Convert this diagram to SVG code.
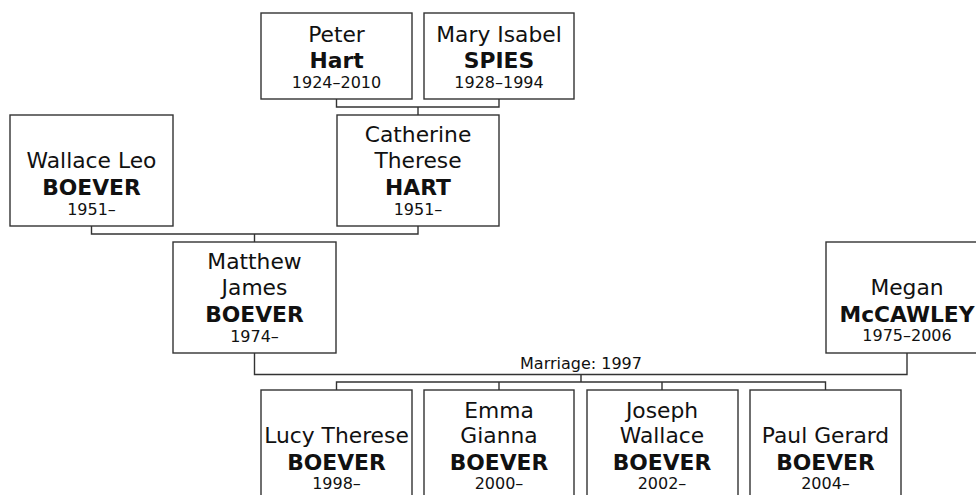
<svg xmlns="http://www.w3.org/2000/svg" width="976" height="495" viewBox="0 0 976 495">
<style>
.box{fill:#ffffff;stroke:#333333;stroke-width:1.4}
.ln{fill:none;stroke:#333333;stroke-width:1.4}
text{font-family:"DejaVu Sans","Liberation Sans",sans-serif;fill:#111111;text-anchor:middle}
.n{font-size:21.8px}
.s{font-size:21.8px;font-weight:bold}
.y{font-size:16px}
</style>
<rect width="976" height="495" fill="#ffffff"/>
<g id="connectors">
<path class="ln" d="M336.5 99 V107 H499 V99 M418 107 V115"/>
<path class="ln" d="M91.5 226 V234 H418 V226 M254.5 234 V242"/>
<path class="ln" d="M254.5 353 V374.5 H907 V353 M581 374.5 V382"/>
<path class="ln" d="M336.5 390 V382 H825.5 V390 M499 382 V390 M662 382 V390"/>
<text class="y" x="581" y="369">Marriage: 1997</text>
</g>
<g id="peter">
<rect class="box" x="261" y="13" width="151" height="86"/>
<text class="n" x="336.5" y="42">Peter</text>
<text class="s" x="336.5" y="68">Hart</text>
<text class="y" x="336.5" y="88">1924–2010</text>
</g>
<g id="mary">
<rect class="box" x="424" y="13" width="150" height="86"/>
<text class="n" x="499" y="42">Mary Isabel</text>
<text class="s" x="499" y="68">SPIES</text>
<text class="y" x="499" y="88">1928–1994</text>
</g>
<g id="catherine">
<rect class="box" x="337" y="115" width="162" height="111"/>
<text class="n" x="418" y="142">Catherine</text>
<text class="n" x="418" y="168">Therese</text>
<text class="s" x="418" y="195">HART</text>
<text class="y" x="418" y="215">1951–</text>
</g>
<g id="wallace">
<rect class="box" x="10" y="115" width="163" height="111"/>
<text class="n" x="91.5" y="168">Wallace Leo</text>
<text class="s" x="91.5" y="195">BOEVER</text>
<text class="y" x="91.5" y="215">1951–</text>
</g>
<g id="matthew">
<rect class="box" x="173" y="242" width="163" height="111"/>
<text class="n" x="254.5" y="269">Matthew</text>
<text class="n" x="254.5" y="295">James</text>
<text class="s" x="254.5" y="322">BOEVER</text>
<text class="y" x="254.5" y="342">1974–</text>
</g>
<g id="megan">
<rect class="box" x="826" y="242" width="162" height="111"/>
<text class="n" x="907" y="295">Megan</text>
<text class="s" x="907" y="322">McCAWLEY</text>
<text class="y" x="907" y="341">1975–2006</text>
</g>
<g id="lucy">
<rect class="box" x="261" y="390" width="151" height="111"/>
<text class="n" x="336.5" y="443">Lucy Therese</text>
<text class="s" x="336.5" y="470">BOEVER</text>
<text class="y" x="336.5" y="489">1998–</text>
</g>
<g id="emma">
<rect class="box" x="424" y="390" width="150" height="111"/>
<text class="n" x="499" y="418">Emma</text>
<text class="n" x="499" y="443">Gianna</text>
<text class="s" x="499" y="470">BOEVER</text>
<text class="y" x="499" y="489">2000–</text>
</g>
<g id="joseph">
<rect class="box" x="587" y="390" width="151" height="111"/>
<text class="n" x="662" y="418">Joseph</text>
<text class="n" x="662" y="443">Wallace</text>
<text class="s" x="662" y="470">BOEVER</text>
<text class="y" x="662" y="489">2002–</text>
</g>
<g id="paul">
<rect class="box" x="750" y="390" width="151" height="111"/>
<text class="n" x="825.5" y="443">Paul Gerard</text>
<text class="s" x="825.5" y="470">BOEVER</text>
<text class="y" x="825.5" y="489">2004–</text>
</g>
</svg>
